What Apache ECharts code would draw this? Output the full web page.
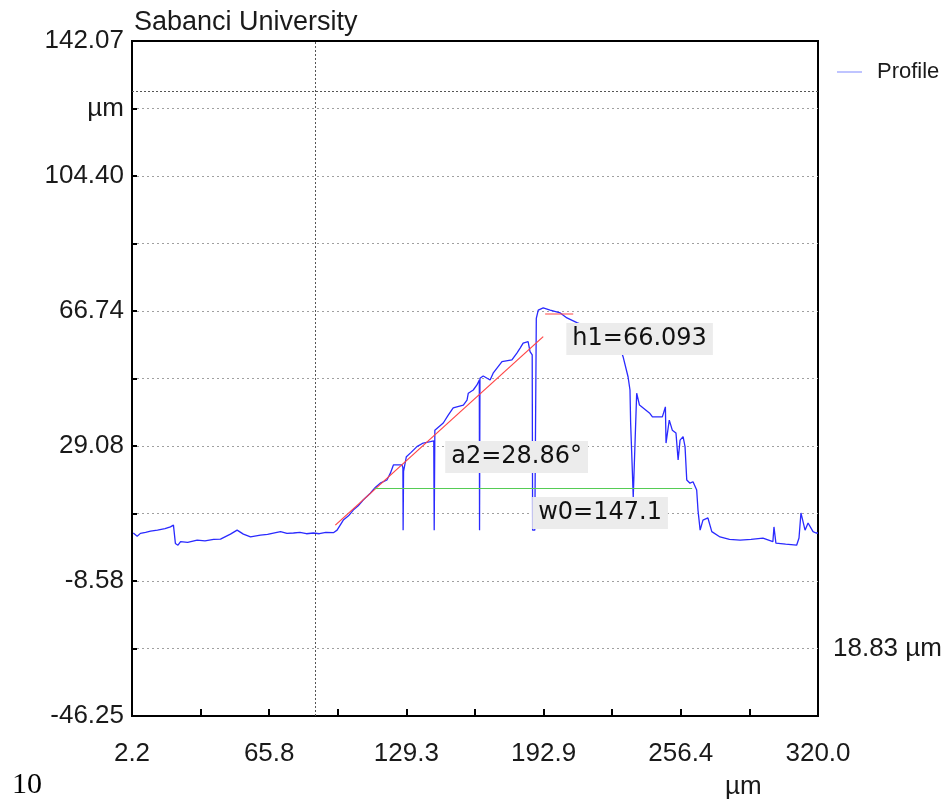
<!DOCTYPE html>
<html>
<head>
<meta charset="utf-8">
<script src="https://cdn.jsdelivr.net/npm/echarts@6/dist/echarts.min.js"></script>
<style>
  html, body { margin: 0; padding: 0; background: #fff; }
  #chart { width: 949px; height: 810px; }
</style>
</head>
<body>
<div id="chart"></div>
<script>
// axis ranges (um)
var xMin = 2.2, xMax = 320.0
var yMin = -46.25, yMax = 142.07
var xTickLabels = ['2.2', '65.8', '129.3', '192.9', '256.4', '320.0']
var yTickLabels = ['-46.25', '', '-8.58', '', '29.08', '', '66.74', '', '104.40', 'µm', '142.07']

// measured profile
var profileX = [2.8, 4.6, 6.1, 8.5, 10.8, 14.0, 17.5, 20.0, 21.4, 22.3, 23.5, 24.7, 28.0, 32.4, 36.0, 40.0, 43.2, 47.8, 50.9, 53.8,
  57.1, 61.7, 65.0, 67.7, 71.0, 74.0, 77.0, 80.0, 83.0, 86.2, 89.0, 92.0, 95.5, 97.2, 100.1, 102.5, 104.7, 107.0, 109.3, 112.6,
  115.0, 117.2, 120.3, 121.9, 123.3, 127.3, 127.7, 127.8, 128.0, 129.3, 131.5, 134.2, 137.1, 140.4, 142.0, 142.2, 142.5, 146.4, 148.7, 151.0,
  155.7, 157.4, 158.0, 160.3, 162.0, 163.1, 163.2, 163.4, 164.9, 168.1, 169.5, 173.6, 178.2, 180.5, 182.0, 183.4, 185.7, 186.6, 187.6, 187.8,
  188.8, 189.5, 190.4, 192.7, 195.9, 200.6, 203.7, 208.3, 214.5, 223.7, 229.3, 229.7, 232.0, 232.9, 233.2, 234.0, 234.4, 235.2, 236.0, 237.3,
  241.9, 243.3, 247.9, 249.3, 249.6, 251.1, 252.5, 254.2, 255.2, 256.1, 257.5, 258.4, 259.2, 260.7, 262.1, 263.8, 264.4, 265.4, 266.7, 269.0,
  270.8, 274.6, 279.0, 283.9, 289.0, 294.5, 299.1, 299.6, 300.5, 305.0, 310.1, 311.2, 312.1, 314.0, 315.4, 317.7, 319.1, 320.0]
var profileY = [4.8, 3.9, 4.7, 5.0, 5.3, 5.6, 6.0, 6.5, 7.0, 1.9, 1.4, 2.4, 2.2, 2.8, 2.6, 3.0, 3.1, 4.5, 5.6, 4.5,
  3.7, 4.2, 4.4, 4.8, 5.2, 4.7, 4.8, 5.0, 4.6, 4.8, 4.6, 5.0, 4.9, 5.6, 8.4, 9.6, 11.2, 12.4, 14.0, 15.9,
  17.6, 18.7, 19.6, 21.5, 23.8, 23.8, 23.0, 5.6, 22.0, 26.1, 27.3, 28.9, 29.9, 30.3, 30.5, 5.6, 33.5, 35.5, 37.7, 39.7,
  40.5, 41.9, 43.8, 44.7, 46.1, 47.5, 5.6, 48.0, 48.6, 47.5, 49.4, 52.6, 53.1, 55.0, 56.4, 57.8, 58.2, 55.4, 54.5, 5.6,
  5.6, 64.7, 67.0, 67.6, 67.0, 66.2, 64.8, 63.5, 62.0, 58.6, 54.7, 54.0, 48.4, 44.7, 35.5, 22.0, 14.8, 14.8, 43.8, 40.5,
  38.3, 37.2, 37.2, 40.0, 29.9, 36.3, 33.5, 32.7, 25.2, 30.7, 31.7, 28.9, 19.6, 18.7, 19.1, 16.8, 11.2, 5.6, 8.4, 9.0,
  5.2, 3.7, 3.0, 2.8, 3.0, 3.4, 2.4, 6.5, 2.0, 1.7, 1.4, 3.4, 10.4, 5.6, 7.6, 5.2, 4.8, 4.8]

// fitted slope line and peak line (red)
var slopeX = [96.4, 192.7]
var slopeY = [7.0, 59.6]
var peakX = [193.6, 206.6]
var peakY = [65.9, 65.9]

// width line (green)
var widthX = [114.6, 261.7]
var widthY = 17.33

// cursors
var cursorX = 87.2
var cursorY = 128.1

// annotations: [label, x, y]
var notes = [
  ['h1=66.093', 203.4, 58.9],
  ['a2=28.86°', 147.3, 26.0],
  ['w0=147.1', 187.6, 10.4]
]

function zip (xs, ys) {
  return xs.map(function (x, i) { return [x, ys[i]] })
}

var FONT = 'Liberation Sans'
var chart = echarts.init(document.getElementById('chart'))

var option = {
  animation: false,
  backgroundColor: '#fff',
  title: {
    text: 'Sabanci University',
    left: 129,
    top: 4,
    textStyle: { fontFamily: FONT, fontSize: 27, fontWeight: 'normal', color: '#1a1a1a' }
  },
  legend: {
    data: ['Profile'],
    left: 832,
    top: 56,
    icon: 'rect',
    itemWidth: 25,
    itemHeight: 1.5,
    itemStyle: { color: '#aab0ff' },
    textStyle: { fontFamily: FONT, fontSize: 22, color: '#1a1a1a', padding: [0, 0, 0, 10] }
  },
  grid: {
    left: 132,
    top: 41,
    width: 686,
    height: 675,
    show: true,
    borderColor: '#000',
    borderWidth: 2
  },
  xAxis: [
    { type: 'value', min: xMin, max: xMax, show: false },
    {
      type: 'value', min: 0, max: 10, interval: 1, position: 'bottom',
      axisLine: { show: true, lineStyle: { color: '#000', width: 2 } },
      axisTick: { show: true, inside: true, length: 7, lineStyle: { color: '#000', width: 2 } },
      axisLabel: {
        margin: 25, fontFamily: FONT, fontSize: 26, color: '#1a1a1a',
        formatter: function (v) { return v % 2 === 0 ? xTickLabels[v / 2] : '' }
      },
      splitLine: { show: false }
    }
  ],
  yAxis: [
    { type: 'value', min: yMin, max: yMax, show: false },
    {
      type: 'value', min: 0, max: 10, interval: 1, position: 'left',
      axisLine: { show: true, lineStyle: { color: '#000', width: 2 } },
      axisTick: { show: true, inside: true, length: 5, lineStyle: { color: '#000', width: 2 } },
      axisLabel: {
        margin: 8, fontFamily: FONT, fontSize: 26, color: '#1a1a1a',
        formatter: function (v) { return yTickLabels[v] }
      },
      splitLine: {
        show: true, showMinLine: false, showMaxLine: false,
        lineStyle: { color: '#a0a0a0', width: 1, type: [2, 3] }
      }
    },
    {
      type: 'value', min: 0, max: 10, interval: 1, position: 'right',
      axisLine: { show: false },
      axisTick: { show: false },
      axisLabel: {
        margin: 15, fontFamily: FONT, fontSize: 26, color: '#1a1a1a',
        formatter: function (v) { return v === 1 ? '18.83 µm' : '' }
      },
      splitLine: { show: false }
    }
  ],
  graphic: [
    { type: 'text', left: 725, top: 774, style: { text: 'µm', fontFamily: FONT, fontSize: 26, fill: '#1a1a1a' } },
    { type: 'text', left: 12, top: 770, style: { text: '10', fontFamily: 'Liberation Serif', fontSize: 30, fill: '#000' } }
  ],
  series: [
    {
      name: 'Profile',
      type: 'line',
      xAxisIndex: 0,
      yAxisIndex: 0,
      data: zip(profileX, profileY),
      showSymbol: false,
      symbol: 'none',
      lineStyle: { color: '#2a2aff', width: 1.3 },
      itemStyle: { color: '#2a2aff' },
      z: 3,
      markLine: {
        silent: true,
        symbol: 'none',
        label: { show: false },
        lineStyle: { color: '#555', width: 1, type: [2, 2] },
        data: [
          { xAxis: cursorX },
          { yAxis: cursorY },
          [
            { coord: [widthX[0], widthY], lineStyle: { color: '#55cc55', type: 'solid', width: 1.2 } },
            { coord: [widthX[1], widthY] }
          ]
        ]
      },
      markPoint: {
        silent: true,
        symbol: 'rect',
        symbolSize: 0,
        z: 10,
        label: {
          show: true,
          position: 'right',
          distance: 0,
          fontFamily: 'DejaVu Sans',
          fontSize: 24,
          lineHeight: 28,
          color: '#111',
          backgroundColor: '#ececec',
          padding: [2, 6]
        },
        data: notes.map(function (n) {
          return { coord: [n[1], n[2]], label: { formatter: n[0] } }
        })
      }
    },
    {
      name: 'slope',
      type: 'line',
      data: zip(slopeX, slopeY),
      symbol: 'none',
      lineStyle: { color: '#ff4444', width: 1.2 },
      z: 4
    },
    {
      name: 'peak',
      type: 'line',
      data: zip(peakX, peakY),
      symbol: 'none',
      lineStyle: { color: '#ff4444', width: 1.2 },
      z: 4
    }
  ]
}

chart.setOption(option)
</script>
</body>
</html>
